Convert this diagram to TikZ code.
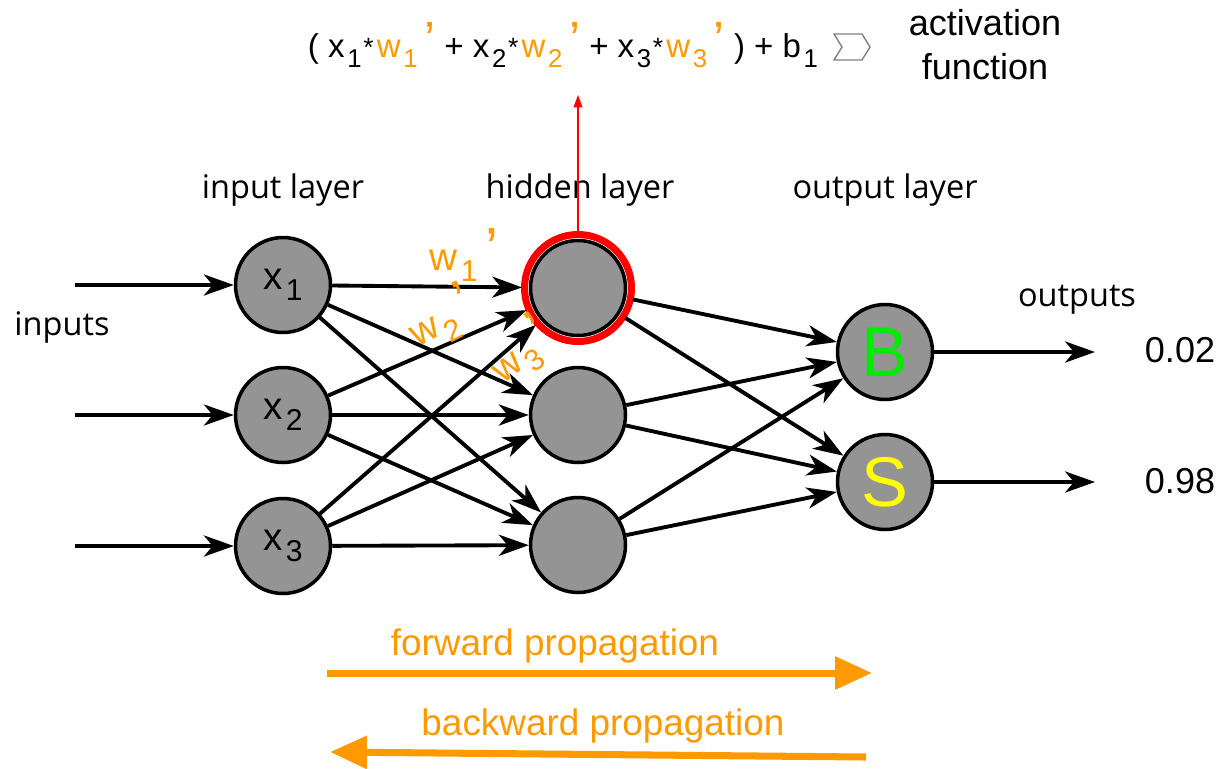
\documentclass[tikz,border=0pt]{standalone}
\usepackage{fontspec}
\setmainfont{Liberation Sans}
\newfontfamily\layerfont{Open Sans}
\usetikzlibrary{arrows.meta, positioning}

\definecolor{nodegray}{RGB}{148,148,148}
\definecolor{proporange}{RGB}{255,153,0}
\definecolor{outgreen}{RGB}{0,235,0}
\definecolor{outyellow}{RGB}{255,255,0}
\newcommand{\sbs}[1]{\kern0.08em\raisebox{-0.55ex}{\scalebox{0.78}{#1}}}
\newcommand{\prm}{\kern0.2em\raisebox{0.1ex}{\scalebox{1.5}{’}}}
\newcommand{\wgt}[1]{\textcolor{proporange}{w\sbs{#1}\prm}}
\newcommand{\mul}{\kern0.05em\raisebox{0.1ex}{\scalebox{0.8}{*}}\kern0.1em}

\begin{document}
\begin{tikzpicture}[x=0.02cm, y=-0.02cm,
    neuron/.style={circle, draw=black, line width=2pt, fill=nodegray, minimum size=1.9cm, inner sep=0pt, font=\fontsize{22}{24}\selectfont},
    link/.style={-{Stealth[length=17pt, width=12pt, inset=5pt]}, line width=2.2pt},
    layertext/.style={font=\layerfont\fontsize{18.5}{22}\selectfont},
    bigtext/.style={font=\fontsize{20.5}{25}\selectfont},
    wlabel/.style={text=proporange, font=\fontsize{22}{24}\selectfont, inner sep=0pt},
    proparrow/.style={-{Triangle[length=21pt, width=18pt]}, line width=4pt, proporange}]
    \useasboundingbox (0,0) rectangle (1222,768);

    % Weighted sum and activation
    \node[font=\fontsize{18.8}{24}\selectfont] (sumtext) at (563,45) {( x\sbs{1}\mul\wgt{1} + x\sbs{2}\mul\wgt{2} + x\sbs{3}\mul\wgt{3} ) + b\sbs{1}};
    \draw[gray, line width=0.8pt] (834,34) -- (862,34) -- (870,47) -- (862,60) -- (834,60) -- (842,47) -- cycle;
    \node[bigtext, align=center] (acttext) at (985,45) {activation\\function};

    % Layer titles
    \node[layertext] (inlayer) at (283,190) {input layer};
    \node[layertext] (hidlayer) at (580,190) {hidden layer};
    \node[layertext] (outlayer) at (885,190) {output layer};
    \node[layertext] (inputs) at (62,327) {inputs};
    \node[layertext] (outputs) at (1077,300) {outputs};

    % Input layer
    \node[neuron] (in1) at (283,285) {x\sbs{1}};
    \node[neuron] (in2) at (283,415) {x\sbs{2}};
    \node[neuron] (in3) at (283,546) {x\sbs{3}};

    % Hidden layer (first neuron highlighted)
    \node[neuron, outer sep=4.8pt] (hid1) at (578,288) {};
    \draw[red, line width=4pt] (hid1.center) circle (1.07cm);
    \node[neuron] (hid2) at (578,415) {};
    \node[neuron] (hid3) at (578,545) {};

    % Output layer
    \node[neuron, font=\fontsize{40}{44}\selectfont] (outb) at (885,352) {\textcolor{outgreen}{B}};
    \node[neuron, font=\fontsize{40}{44}\selectfont] (outs) at (885,482) {\textcolor{outyellow}{S}};

    % Inputs
    \coordinate (src1) at (75,285);
    \coordinate (src2) at (75,415);
    \coordinate (src3) at (75,546);
    \draw[link] (src1) -- (in1);
    \draw[link] (src2) -- (in2);
    \draw[link] (src3) -- (in3);

    % Input to hidden
    \draw[link] (in1) -- (hid1);
    \draw[link] (in1) -- (hid2);
    \draw[link] (in1) -- (hid3);
    \draw[link] (in2) -- (hid1);
    \draw[link] (in2) -- (hid2);
    \draw[link] (in2) -- (hid3);
    \draw[link] (in3) -- (hid1);
    \draw[link] (in3) -- (hid2);
    \draw[link] (in3) -- (hid3);

    % Hidden to output
    \draw[link] (hid1) -- (outb);
    \draw[link] (hid1) -- (outs);
    \draw[link] (hid2) -- (outb);
    \draw[link] (hid2) -- (outs);
    \draw[link] (hid3) -- (outb);
    \draw[link] (hid3) -- (outs);

    % Outputs
    \coordinate (endb) at (1095,352);
    \coordinate (ends) at (1095,482);
    \draw[link] (outb) -- (endb);
    \draw[link] (outs) -- (ends);
    \node[bigtext] (valb) at (1180,350) {0.02};
    \node[bigtext] (vals) at (1180,481) {0.98};

    % Weight labels
    \node[wlabel] (w1lab) at (464,255) {w\sbs{1}\prm};
    \node[wlabel, rotate=27] (w2lab) at (441,318) {w\sbs{2}\prm};
    \node[wlabel, rotate=38] (w3lab) at (521,351) {w\sbs{3}\prm};

    % Sum goes up to the formula
    \coordinate (sumin) at (578,95);
    \draw[red, line width=0.8pt, -{Triangle[length=7pt, width=5pt]}] (hid1.north) -- (sumin);

    % Propagation directions
    \coordinate (fwstart) at (327,673);
    \coordinate (fwend) at (872,673);
    \draw[proparrow] (fwstart) -- (fwend);
    \node[bigtext, text=proporange, font=\fontsize{21}{25}\selectfont] (fwtext) at (555,646) {forward propagation};
    \coordinate (bwstart) at (866,757);
    \coordinate (bwend) at (330,752);
    \draw[proparrow] (bwstart) -- (bwend);
    \node[bigtext, text=proporange, font=\fontsize{21}{25}\selectfont] (bwtext) at (603,726) {backward propagation};
\end{tikzpicture}
\end{document}
